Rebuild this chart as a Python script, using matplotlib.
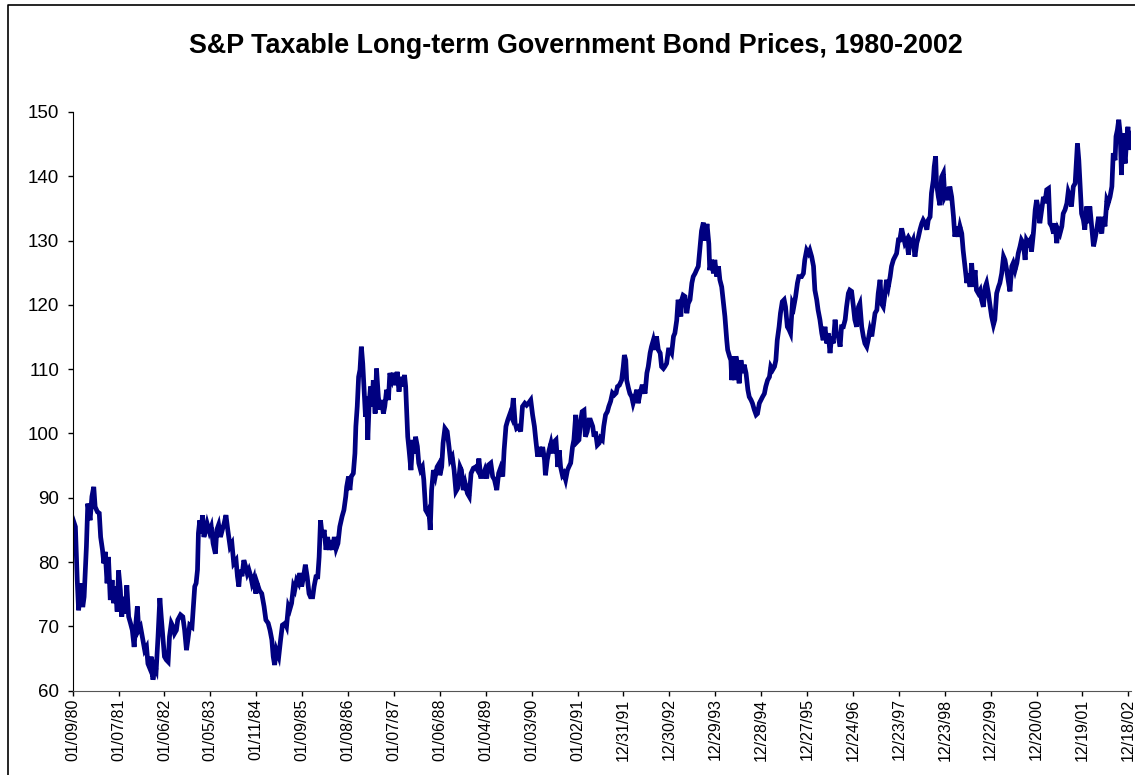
import matplotlib
matplotlib.use("Agg")
import matplotlib.pyplot as plt
from matplotlib.lines import Line2D

plt.rcParams['font.family'] = ['Liberation Sans', 'DejaVu Sans']

# time in 52-week steps since 01/09/80, bond price index
t = [0.00, 0.06, 0.10, 0.13, 0.17, 0.22, 0.25, 0.30, 0.33, 0.38, 0.42, 0.46, 0.49, 0.54, 0.58,
     0.61, 0.65, 0.68, 0.71, 0.75, 0.78, 0.82, 0.86, 0.89, 0.93, 0.97, 1.00, 1.04, 1.07, 1.11,
     1.15, 1.18, 1.22, 1.26, 1.30, 1.34, 1.37, 1.41, 1.44, 1.48, 1.53, 1.57, 1.61, 1.64, 1.68,
     1.71, 1.75, 1.79, 1.82, 1.86, 1.90, 1.93, 1.97, 2.00, 2.04, 2.08, 2.11, 2.15, 2.19, 2.22,
     2.26, 2.29, 2.35, 2.40, 2.44, 2.48, 2.51, 2.55, 2.60, 2.63, 2.66, 2.69, 2.72, 2.74, 2.77,
     2.80, 2.83, 2.86, 2.90, 2.93, 2.98, 3.02, 3.06, 3.11, 3.14, 3.18, 3.22, 3.26, 3.30, 3.34,
     3.38, 3.43, 3.47, 3.51, 3.56, 3.59, 3.62, 3.65, 3.69, 3.73, 3.77, 3.805, 3.84, 3.88, 3.91,
     3.95, 3.99, 4.02, 4.07,
     4.12, 4.17, 4.21, 4.26, 4.30, 4.34, 4.37, 4.40, 4.44, 4.49, 4.53, 4.57, 4.63, 4.66, 4.70,
     4.73, 4.77, 4.81, 4.84, 4.88, 4.92, 4.95, 4.99, 5.03, 5.07, 5.11, 5.15, 5.18, 5.23, 5.26,
     5.30, 5.34, 5.37, 5.40, 5.44, 5.48, 5.52, 5.555, 5.59, 5.63, 5.66, 5.70, 5.74, 5.78, 5.82,
     5.87, 5.91, 5.95, 5.97, 6.01, 6.04, 6.07, 6.115, 6.15, 6.17, 6.20, 6.23, 6.26, 6.29, 6.32,
     6.35, 6.38, 6.405, 6.43, 6.46, 6.49, 6.52, 6.55, 6.59, 6.62, 6.66, 6.695, 6.73, 6.77, 6.80,
     6.84, 6.88, 6.91, 6.96, 7.00, 7.04, 7.07, 7.11, 7.15, 7.19, 7.23, 7.255, 7.28, 7.30, 7.33,
     7.37, 7.41, 7.44, 7.47, 7.51, 7.54, 7.58, 7.62, 7.65, 7.69, 7.73, 7.76, 7.79, 7.82, 7.86,
     7.90, 7.94, 7.99,
     8.00, 8.04, 8.07, 8.11, 8.16, 8.20, 8.23, 8.27, 8.31, 8.35, 8.39, 8.44, 8.47, 8.51, 8.55,
     8.60, 8.64, 8.68, 8.73, 8.78, 8.82, 8.85, 8.89, 8.93, 8.98, 9.02, 9.06, 9.11, 9.15, 9.19,
     9.24, 9.28, 9.32, 9.37, 9.40, 9.44, 9.48, 9.53, 9.56, 9.60, 9.64, 9.67, 9.72, 9.76, 9.80,
     9.85, 9.89, 9.93, 9.98, 10.02, 10.06, 10.09, 10.13, 10.17, 10.20, 10.24, 10.28, 10.30, 10.34, 10.38,
     10.42, 10.46, 10.49, 10.53, 10.57, 10.60, 10.63, 10.67, 10.70, 10.74, 10.78, 10.81, 10.85, 10.89, 10.92,
     10.96, 10.99, 11.03, 11.07, 11.10, 11.14, 11.17, 11.21, 11.25, 11.28, 11.33, 11.36, 11.39, 11.43, 11.47,
     11.50, 11.54, 11.57, 11.61, 11.65, 11.68, 11.72, 11.76, 11.80, 11.84, 11.87, 11.91,
     11.96, 11.996, 12.02, 12.05, 12.07, 12.11, 12.14, 12.18, 12.21, 12.25, 12.29, 12.32, 12.36, 12.40, 12.43,
     12.47, 12.51, 12.54, 12.58, 12.61, 12.65, 12.69, 12.72, 12.76, 12.80, 12.83, 12.87, 12.90, 12.94, 12.98,
     13.01, 13.05, 13.09, 13.12, 13.16, 13.19, 13.22, 13.25, 13.27, 13.30, 13.34, 13.38, 13.41, 13.45, 13.49,
     13.52, 13.56, 13.59, 13.63, 13.67, 13.70, 13.74, 13.78, 13.82, 13.86, 13.88, 13.92, 13.96, 13.99, 14.03,
     14.07, 14.10, 14.14, 14.18, 14.21, 14.25, 14.27, 14.31, 14.34, 14.36, 14.39, 14.42, 14.45, 14.49, 14.52,
     14.56, 14.60, 14.63, 14.67, 14.71, 14.74, 14.78, 14.81, 14.85, 14.89, 14.92, 14.96, 14.995, 15.03, 15.07,
     15.10, 15.14, 15.18, 15.21, 15.25, 15.29, 15.32, 15.35, 15.39, 15.42, 15.46, 15.50, 15.53, 15.57, 15.61,
     15.64, 15.68, 15.71, 15.75, 15.79, 15.82,
     15.88, 15.92, 15.95, 15.99, 16.03, 16.06, 16.10, 16.14, 16.17, 16.21, 16.24, 16.28, 16.32, 16.35, 16.39,
     16.43, 16.46, 16.50, 16.535, 16.57, 16.61, 16.64, 16.68, 16.72, 16.75, 16.79, 16.83, 16.86, 16.90, 16.93,
     16.97, 17.01, 17.04, 17.08, 17.12, 17.15, 17.19, 17.225, 17.26, 17.30, 17.33, 17.37, 17.41, 17.44, 17.48,
     17.52, 17.55, 17.59, 17.62, 17.66, 17.70, 17.73, 17.77, 17.81, 17.84, 17.88, 17.915, 17.95, 17.99, 18.02,
     18.06, 18.10, 18.13, 18.17, 18.21, 18.24, 18.28, 18.31, 18.35, 18.39, 18.42, 18.46, 18.50, 18.53, 18.57,
     18.61, 18.64, 18.68, 18.71, 18.75, 18.77, 18.80, 18.82, 18.86, 18.895, 18.93, 18.97, 19.00, 19.04, 19.08,
     19.11, 19.15, 19.19, 19.22, 19.26, 19.29, 19.33,
     19.37, 19.40, 19.44, 19.48, 19.51, 19.55, 19.585, 19.62, 19.66, 19.69, 19.73, 19.77, 19.80, 19.84, 19.88,
     19.91, 19.95, 19.98, 20.02, 20.06, 20.09, 20.13, 20.17, 20.20, 20.24, 20.28, 20.31, 20.35, 20.38, 20.42,
     20.46, 20.49, 20.53, 20.57, 20.60, 20.64, 20.67, 20.71, 20.75, 20.78, 20.82, 20.86, 20.89, 20.93, 20.97,
     21.00, 21.04, 21.07, 21.11, 21.15, 21.18, 21.22, 21.26, 21.29, 21.33, 21.37, 21.40, 21.44, 21.47, 21.51,
     21.55, 21.58, 21.62, 21.66, 21.69, 21.73, 21.76, 21.80, 21.84, 21.86, 21.89, 21.92, 21.95, 21.98, 22.02,
     22.05, 22.09, 22.13, 22.16, 22.20, 22.24, 22.27, 22.31, 22.35, 22.38, 22.42, 22.45, 22.49, 22.53, 22.56,
     22.60, 22.64, 22.67, 22.71, 22.73, 22.76, 22.79, 22.82, 22.85, 22.87, 22.90, 22.93, 22.96, 22.99, 23.02,
     23.05]

price = [86.8, 85.5, 77.2, 72.5, 76.7, 73.0, 74.6, 82.4, 89.1, 86.5, 90.2, 91.7, 88.6, 87.8, 87.6,
         83.9, 81.9, 79.8, 81.6, 76.7, 80.8, 74.1, 77.2, 73.6, 76.2, 72.3, 78.7, 75.6, 71.5, 74.6,
         72.0, 76.4, 71.5, 70.5, 69.4, 66.8, 69.9, 73.1, 69.4, 69.9, 67.9, 66.3, 66.8, 64.2, 63.5,
         65.3, 61.7, 63.7, 63.2, 68.4, 74.4, 71.5, 67.9, 65.3, 64.8, 64.5, 68.4, 70.5, 69.9, 68.9,
         69.4, 71.0, 71.8, 71.5, 69.4, 66.3, 67.9, 70.2, 69.9, 73.1, 76.2, 76.7, 78.8, 84.5, 86.5,
         84.5, 87.3, 83.9, 85.0, 86.0, 84.7, 85.5, 82.9, 81.3, 85.0, 85.8, 83.9, 85.0, 86.0, 87.3,
         85.0, 82.4, 82.9, 79.8, 80.3, 77.8, 76.2, 78.8, 77.8, 80.3, 79.3, 78.2, 78.8, 77.8, 76.7,
         77.5, 75.1, 76.7, 75.6,
         75.1, 73.1, 71.0, 70.5, 69.4, 67.9, 65.3, 64.0, 66.3, 65.3, 67.9, 70.2, 70.5, 70.0, 73.1,
         72.6, 73.6, 76.2, 75.7, 77.2, 76.7, 78.3, 76.2, 77.7, 79.6, 77.7, 75.1, 74.6, 74.6, 76.2,
         77.7, 77.7, 80.8, 86.5, 83.9, 85.0, 81.9, 83.9, 81.9, 83.4, 81.9, 83.9, 82.1, 82.9, 85.5,
         87.1, 88.1, 90.2, 91.7, 93.3, 91.2, 93.3, 93.8, 96.9, 101.1, 104.2, 108.8, 109.9, 113.5, 110.9,
         106.8, 102.6, 105.7, 99.0, 104.7, 107.3, 104.2, 108.3, 103.1, 110.1, 105.7, 103.7, 105.2, 103.1, 104.2,
         106.8, 105.2, 109.4, 108.3, 109.4, 107.5, 109.6, 106.5, 108.8, 107.3, 109.1, 107.3, 103.1, 99.5, 97.4,
         94.3, 99.0, 96.9, 99.5, 98.0, 95.4, 94.3, 94.8, 92.8, 88.1, 87.6, 88.1, 85.0, 91.2, 94.3,
         93.3, 94.8, 95.4,
         93.5, 94.8, 98.5, 100.8, 100.3, 97.9, 95.9, 96.4, 94.3, 91.0, 91.5, 94.8, 94.3, 91.2, 92.3,
         90.7, 90.2, 93.8, 94.6, 94.8, 94.3, 96.1, 93.3, 93.3, 94.3, 93.0, 95.1, 95.4, 93.3, 92.8,
         91.2, 93.8, 94.6, 93.3, 97.4, 101.1, 102.1, 103.1, 102.6, 105.5, 101.6, 100.8, 101.1, 100.3, 104.2,
         104.7, 104.4, 104.7, 105.2, 102.9, 101.1, 99.0, 96.4, 97.9, 96.4, 97.9, 95.9, 93.5, 95.9, 97.4,
         98.5, 96.9, 98.7, 99.0, 94.8, 97.4, 94.8, 93.5, 93.8, 92.8, 94.3, 94.8, 95.4, 97.9, 99.0,
         102.9, 98.7, 99.0, 102.1, 103.4, 103.6, 99.5, 100.3, 102.1, 102.1, 101.1, 99.5, 100.3, 98.2, 98.5,
         99.3, 99.0, 101.1, 102.9, 103.4, 104.2, 105.0, 106.3, 106.0, 106.3, 107.3, 107.5,
         108.3, 110.4, 112.2, 111.4, 108.3, 107.0, 106.2, 105.7, 104.7, 105.7, 106.8, 104.7, 106.2, 107.3, 107.3,
         106.2, 109.4, 110.4, 112.5, 113.5, 114.5, 113.0, 115.1, 113.0, 112.5, 110.4, 110.1, 110.4, 110.9, 113.0,
         113.0, 112.5, 115.1, 115.6, 117.6, 120.8, 119.7, 118.2, 120.8, 121.5, 121.3, 118.7, 120.2, 120.8, 123.4,
         124.4, 124.9, 125.4, 126.0, 129.1, 131.5, 132.8, 130.0, 132.6, 129.5, 125.4, 127.0, 124.9, 127.0, 124.4,
         126.0, 123.9, 122.8, 120.2, 118.2, 114.5, 113.0, 112.0, 111.4, 108.3, 112.0, 108.3, 112.0, 110.4, 107.8,
         111.4, 109.4, 110.7, 109.4, 106.8, 105.7, 105.2, 104.7, 103.7, 102.9, 103.1, 104.7, 105.2, 105.7, 106.2,
         107.3, 108.3, 108.8, 110.4, 109.9, 110.4, 111.4, 114.5, 116.6, 118.7, 120.5, 120.8, 119.7, 116.6, 116.1,
         115.6, 120.2, 119.7, 121.3, 123.4, 124.4,
         124.4, 124.9, 127.0, 128.5, 128.0, 128.5, 127.5, 126.0, 122.3, 120.8, 119.2, 117.7, 115.6, 114.5, 116.6,
         114.0, 115.6, 112.5, 115.1, 114.0, 117.7, 115.6, 115.1, 113.5, 116.6, 116.6, 117.7, 119.7, 121.8, 122.3,
         122.1, 119.7, 117.7, 116.6, 119.7, 120.2, 116.6, 115.1, 114.0, 113.5, 114.5, 116.1, 115.1, 116.6, 118.7,
         119.2, 121.8, 123.9, 120.2, 119.7, 121.8, 123.9, 122.8, 124.4, 126.0, 127.0, 127.5, 128.0, 130.1, 130.1,
         131.9, 130.6, 129.6, 130.1, 127.8, 130.1, 129.6, 130.1, 127.5, 129.6, 130.4, 131.7, 132.7, 133.2, 132.7,
         131.7, 133.2, 133.7, 137.4, 139.4, 141.5, 143.1, 138.9, 136.8, 135.5, 139.9, 140.5, 136.8, 137.4, 136.3,
         138.4, 136.8, 133.7, 130.6, 132.2, 130.6, 132.2,
         131.1, 128.5, 126.0, 123.4, 124.9, 122.8, 126.5, 122.8, 125.4, 122.3, 121.8, 122.3, 120.8, 119.7, 122.8,
         123.4, 121.8, 120.2, 118.2, 116.9, 117.7, 121.8, 122.8, 123.4, 124.9, 127.5, 127.0, 125.4, 123.9, 122.1,
         126.0, 126.5, 125.4, 126.5, 128.0, 129.1, 130.1, 129.6, 127.0, 130.1, 129.6, 130.1, 128.3, 131.1, 134.8,
         136.3, 134.8, 132.7, 134.8, 136.8, 135.8, 137.9, 138.1, 132.7, 132.2, 131.1, 132.7, 129.6, 131.7, 131.1,
         132.2, 134.2, 134.8, 135.8, 137.6, 136.8, 135.3, 138.4, 138.9, 141.5, 145.1, 142.5, 138.4, 134.2, 133.2,
         131.7, 135.3, 132.7, 135.3, 132.2, 129.1, 130.1, 131.7, 133.7, 132.2, 131.1, 133.7, 132.2, 136.3, 135.8,
         136.8, 138.4, 143.6, 142.5, 146.2, 147.2, 148.8, 146.7, 140.2, 146.7, 144.1, 142.0, 145.6, 147.7, 144.1,
         146.7]

tick_labels = ["01/09/80", "01/07/81", "01/06/82", "01/05/83", "01/11/84", "01/09/85",
               "01/08/86", "01/07/87", "01/06/88", "01/04/89", "01/03/90", "01/02/91",
               "12/31/91", "12/30/92", "12/29/93", "12/28/94", "12/27/95", "12/24/96",
               "12/23/97", "12/23/98", "12/22/99", "12/20/00", "12/19/01", "12/18/02"]

fig = plt.figure(figsize=(11.35, 7.75), dpi=100)
ax = fig.add_axes([0.064, 0.1088, 0.9322, 0.7467])

ax.plot(t, price, color="#000080", lw=3.4, solid_joinstyle="miter")

ax.set_xlim(0, 23.05)
ax.set_ylim(60, 150)
ax.set_yticks(range(60, 151, 10))
ax.set_xticks(range(len(tick_labels)))
ax.set_xticklabels(tick_labels, rotation=90, fontsize=11.5)
ax.tick_params(axis="y", labelsize=13.5, length=3.6, width=1, pad=6, colors="black")
ax.tick_params(axis="x", length=3.6, width=1, pad=2, colors="black")

for s in ["top", "right"]:
    ax.spines[s].set_visible(False)
ax.spines["left"].set_color("black")
ax.spines["bottom"].set_color("#555555")

fig.text(0.5075, 0.9312, "S&P Taxable Long-term Government Bond Prices, 1980-2002",
         ha="center", va="baseline", fontsize=19.4, fontweight="bold")

# chart area border (left and top edges visible)
fig.add_artist(Line2D([0.0071, 0.0071, 1.0], [0.0, 0.9935, 0.9935],
                      transform=fig.transFigure, color="black", lw=1.2))

fig.savefig("out.png", dpi=100)
